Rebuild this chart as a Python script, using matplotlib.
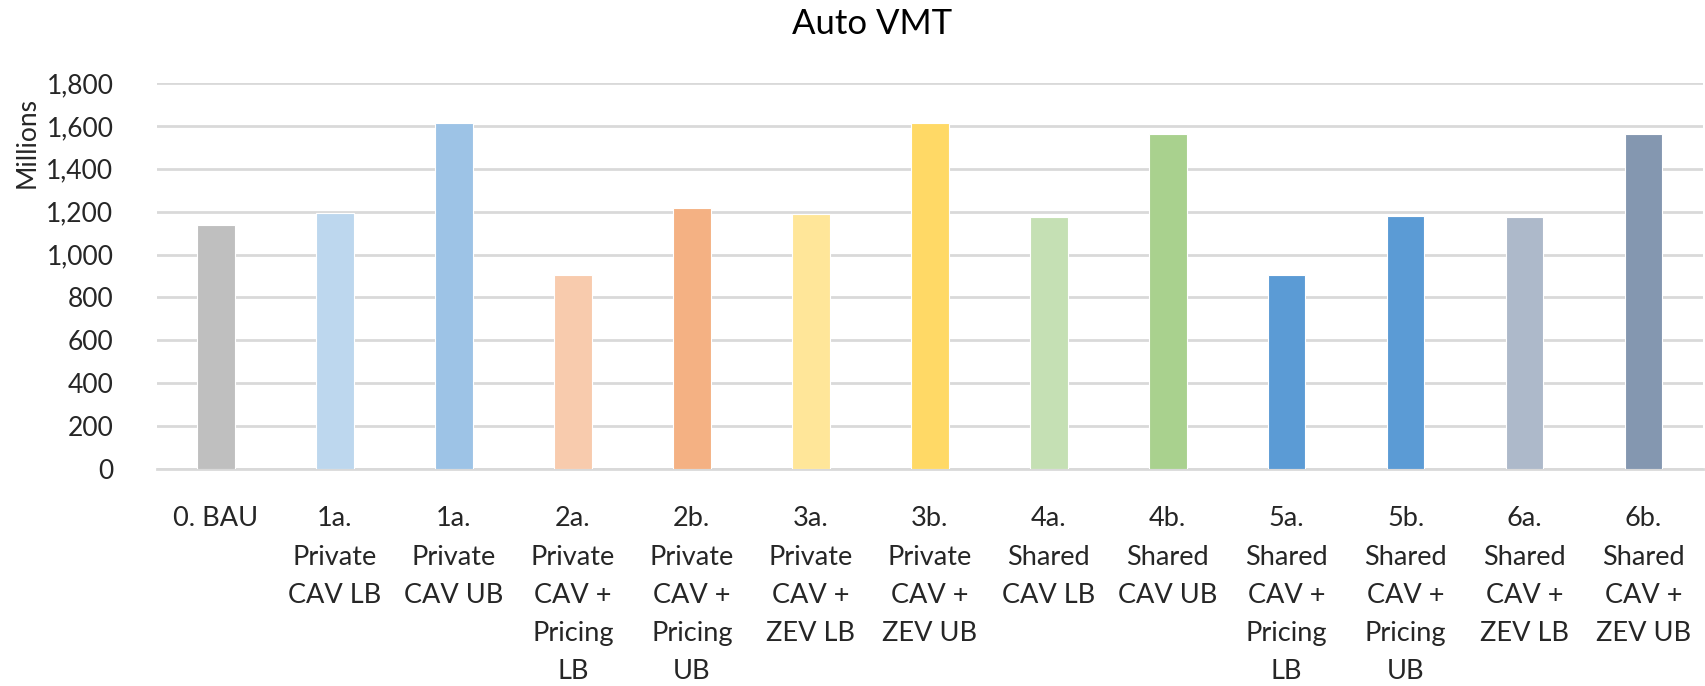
import numpy as np
import matplotlib.pyplot as plt

plt.rcParams['font.family'] = ['Lato', 'DejaVu Sans']

# scenario labels and auto VMT (millions)
categories = ['0. BAU', '1a.\nPrivate\nCAV LB', '1a.\nPrivate\nCAV UB',
              '2a.\nPrivate\nCAV +\nPricing\nLB', '2b.\nPrivate\nCAV +\nPricing\nUB',
              '3a.\nPrivate\nCAV +\nZEV LB', '3b.\nPrivate\nCAV +\nZEV UB',
              '4a.\nShared\nCAV LB', '4b.\nShared\nCAV UB',
              '5a.\nShared\nCAV +\nPricing\nLB', '5b.\nShared\nCAV +\nPricing\nUB',
              '6a.\nShared\nCAV +\nZEV LB', '6b.\nShared\nCAV +\nZEV UB']
vmt = [1138, 1193, 1612, 904, 1216, 1191, 1612, 1174, 1564, 904, 1180, 1174, 1564]
bar_colors = ['#bfbfbf', '#bdd7ee', '#9dc3e6', '#f8cbad', '#f4b183', '#ffe699', '#ffd966',
              '#c5e0b4', '#a9d18e', '#5b9bd5', '#5b9bd5', '#adb9ca', '#8497b0']
y_ticks = np.arange(0, 1801, 200)

W, H = 1705, 686
fig = plt.figure(figsize=(W / 100, H / 100), dpi=100)
ax = fig.add_axes([156.5 / W, 1 - 469 / H, (1703 - 156.5) / W, (469 - 83) / H])

x = np.arange(len(categories))
ax.bar(x, vmt, width=0.317, color=bar_colors, edgecolor='white', linewidth=0.8, zorder=3)

ax.set_xlim(-0.5, len(categories) - 0.5)
ax.set_ylim(0, 1800)
ax.set_yticks(y_ticks)
ax.set_yticklabels([f'{v:,}' for v in y_ticks], fontsize=19, color='#262626')
ax.set_xticks(x)
ax.set_xticklabels(categories, fontsize=19.5, color='#262626', linespacing=1.66, va='top')
ax.tick_params(axis='both', length=0)
ax.tick_params(axis='y', pad=31)
ax.tick_params(axis='x', pad=27)

ax.grid(axis='y', color='#d9d9d9', linewidth=2, zorder=0)
for s in ['top', 'right', 'left']:
    ax.spines[s].set_visible(False)
ax.spines['bottom'].set_color('#d9d9d9')
ax.spines['bottom'].set_linewidth(2)

fig.text(872 / W, 1 - 24 / H, 'Auto VMT', fontsize=25, ha='center', va='center', color='black')
fig.text(27 / W, 1 - 143 / H, 'Millions', fontsize=19, rotation=90, ha='center', va='center',
         color='#262626')

plt.savefig('out.png', dpi=100)
